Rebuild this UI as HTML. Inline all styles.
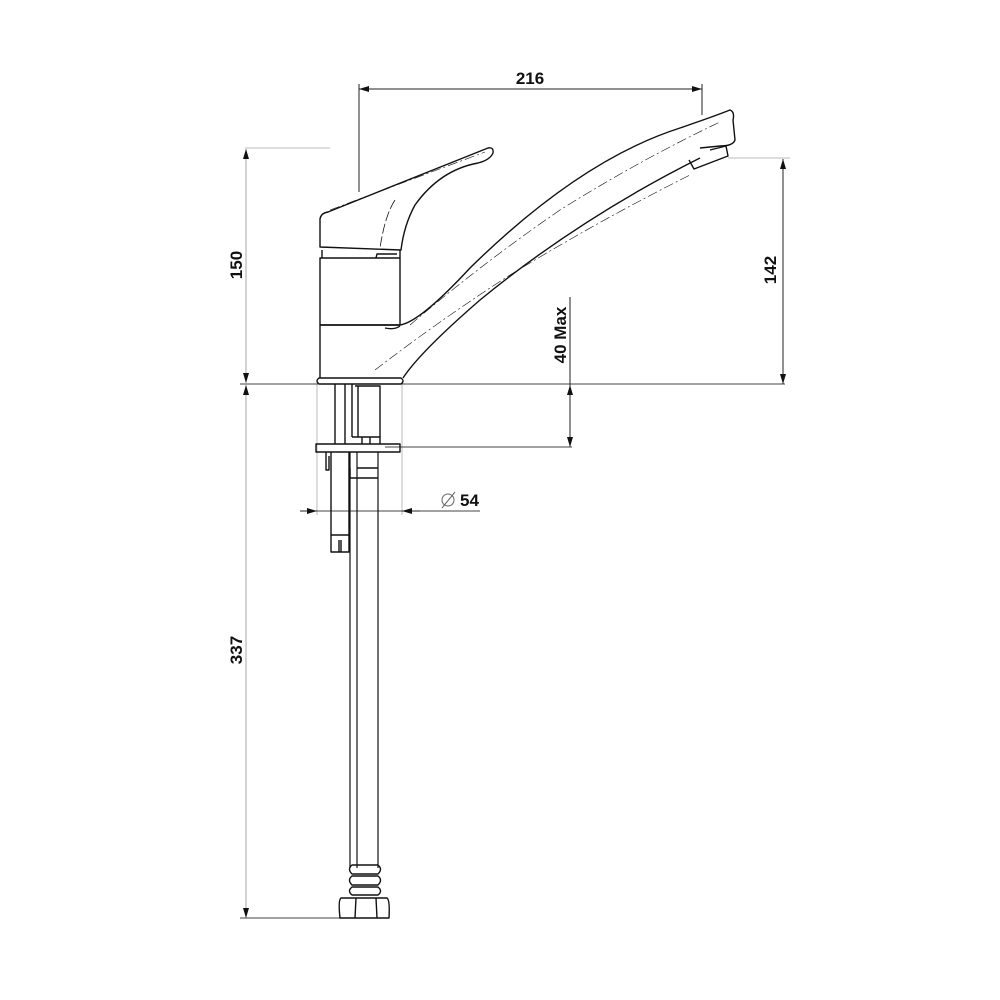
<!DOCTYPE html>
<html><head><meta charset="utf-8"><style>
html,body{margin:0;padding:0;background:#fff;}
svg{display:block;}
text{font-family:"Liberation Sans",Arial,sans-serif;font-weight:bold;font-size:17px;fill:#111;}
</style></head><body>
<svg width="1000" height="1000" viewBox="0 0 1000 1000" xmlns="http://www.w3.org/2000/svg">
<defs>
<marker id="a" viewBox="0 0 10 6" refX="10" refY="3" markerWidth="10" markerHeight="6" orient="auto-start-reverse" markerUnits="userSpaceOnUse"><path d="M0,0 L10,3 L0,6 Z" fill="#111"/></marker>
</defs>
<g fill="none" stroke="#bbb" stroke-width="1">
<line x1="245" y1="148" x2="330" y2="148"/>
<line x1="728" y1="158" x2="790" y2="158"/>
<line x1="317" y1="384" x2="317" y2="515"/>
<line x1="402" y1="384" x2="402" y2="515"/>
</g>
<g fill="none" stroke="#222" stroke-width="1">
<line x1="359" y1="89" x2="702" y2="89" marker-start="url(#a)" marker-end="url(#a)"/>
<line x1="359" y1="84" x2="359" y2="192"/>
<line x1="702" y1="84" x2="702" y2="115"/>
<line x1="246" y1="149" x2="246" y2="383" stroke="#aaa" marker-start="url(#a)" marker-end="url(#a)"/>
<line x1="246" y1="385" x2="246" y2="918" stroke="#aaa" marker-start="url(#a)" marker-end="url(#a)"/>
<line x1="240" y1="384" x2="785" y2="384" stroke="#444"/>
<line x1="240" y1="918" x2="340" y2="918" stroke="#444"/>
<line x1="783" y1="159" x2="783" y2="384" marker-start="url(#a)" marker-end="url(#a)"/>
<line x1="570" y1="297" x2="570" y2="447"/>
<line x1="570" y1="410" x2="570" y2="385" marker-end="url(#a)"/>
<line x1="570" y1="420" x2="570" y2="447" marker-end="url(#a)"/>
<line x1="385" y1="447" x2="572" y2="447" stroke="#444"/>
<line x1="317" y1="511" x2="480" y2="511" stroke="#444"/>
<line x1="300" y1="511" x2="317" y2="511" marker-end="url(#a)"/>
<line x1="420" y1="511" x2="402" y2="511" marker-end="url(#a)"/>
</g>
<text x="530" y="84" text-anchor="middle">216</text>
<text transform="translate(242,265) rotate(-90)" text-anchor="middle">150</text>
<text transform="translate(242,650) rotate(-90)" text-anchor="middle">337</text>
<text transform="translate(776,270) rotate(-90)" text-anchor="middle">142</text>
<text transform="translate(566,335) rotate(-90)" text-anchor="middle">40 Max</text>
<text x="460" y="506">54</text>
<g fill="none" stroke="#666" stroke-width="1"><circle cx="448" cy="500" r="6"/><line x1="442" y1="508" x2="455" y2="492"/></g>

<g fill="none" stroke="#111" stroke-width="1.4" stroke-linejoin="round">
<!-- lever -->
<path d="M320,247 L320,219 Q321,213 328,212 L488,148 Q494,147 493,153 Q490,160 478,163 Q440,170 415,205 Q404,225 401,250 L320,247 Z"/>
<path d="M395,200 Q385,215 380,248" stroke-dasharray="10,3" stroke-width="0.8"/>
<!-- body -->
<path d="M322,250 L322,258 M400,250 L400,258"/>
<rect x="320" y="258" width="80" height="67"/>
<path d="M320,325 L320,378 M320,325 L400,325"/>
<path d="M376,258 L377,254 L397,254"/>
<!-- spout -->
<path d="M400,325 Q420,322 470,268 Q580,160 680,128 Q715,116 730,110 Q735,112 733,120 L735,140 Q733,146 720,146 L700,148"/>
<path d="M710,150 L726,146 L728,156 L694,169 L689,160"/>
<path d="M403,378 Q420,352 480,300 Q580,218 700,158"/>
<path d="M400,326 Q395,330 385,328"/>
<!-- dashed spout interior -->
<path d="M410,325 Q480,265 560,210 Q640,160 720,122" stroke-dasharray="10,3,2,3" stroke-width="0.6"/>
<path d="M375,370 Q440,320 510,275 Q600,220 690,175" stroke-dasharray="10,3,2,3" stroke-width="0.6"/>
<path d="M330,210 L485,152" stroke-dasharray="10,3,2,3" stroke-width="0.6"/>
<!-- base flange -->
<path d="M319,378 L401,378 Q405,381 401,384 L319,384 Q315,381 319,378 Z"/>
<!-- under-sink -->
<path d="M335,384 L335,444 M345,384 L345,444 M352,384 L352,437"/>
<path d="M355,386 L380,386 L380,437 M358,386 L358,437"/>
<path d="M352,437 L380,437 L380,444 M362,437 L362,444 M370,437 L370,444"/>
<rect x="316" y="444" width="84" height="8"/>
<path d="M326,452 L326,470 L329,470 L329,456"/>
<path d="M331,452 L331,552 L349,552 L349,452 M331,535 L349,535 M339,540 L339,552 M341,540 L341,552"/>
<path d="M350,452 L350,868 M357,452 L357,868 M378,452 L378,868" stroke-width="1.2"/>
<path d="M350,468 L350,478 L357,478 M357,468 L378,468 M357,478 L378,478"/>
<!-- fitting -->
<path d="M352,865 L378,865 Q383,869 378,874 L352,874 Q347,869 352,865 Z"/>
<path d="M352,876 L378,876 Q383,880 378,885 L352,885 Q347,880 352,876 Z"/>
<path d="M352,887 L378,887 Q383,891 378,895 L352,895 Q347,891 352,887 Z"/>
<path d="M341,898 L387,898 Q390,900 389,918 L340,918 Q338,900 341,898 Z"/>
<path d="M356,898 L355,918 M376,898 L377,918"/>
</g>
</svg>
</body></html>
